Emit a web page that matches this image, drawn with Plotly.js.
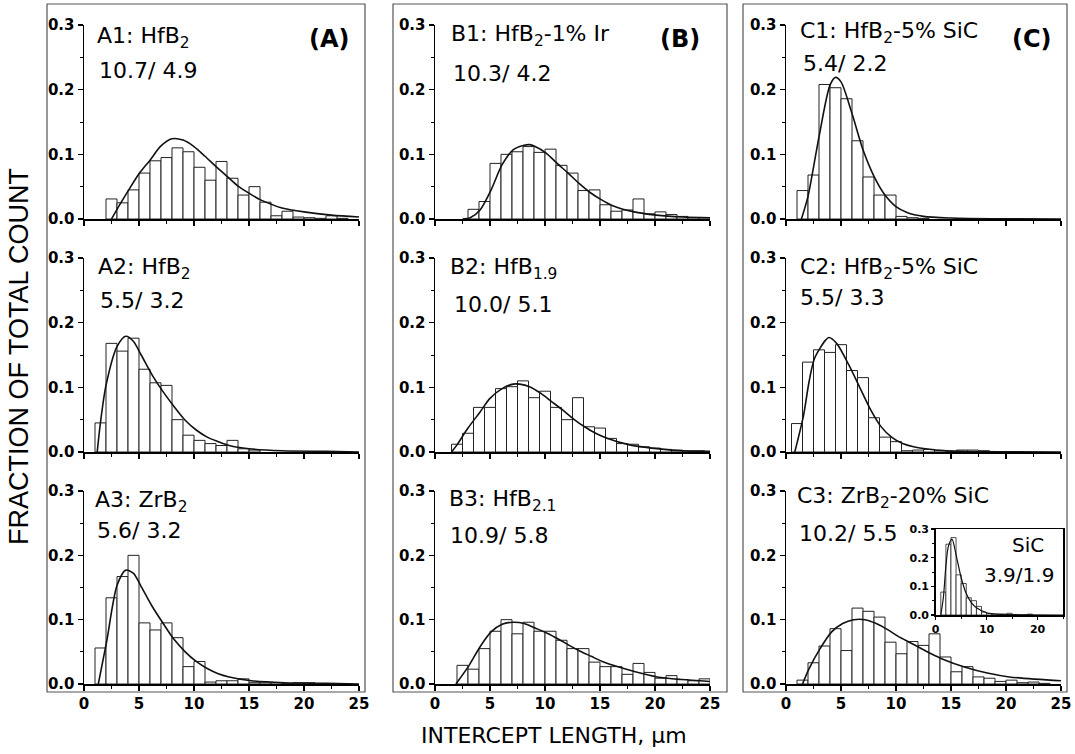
<!DOCTYPE html>
<html>
<head>
<meta charset="utf-8">
<script src="https://cdn.plot.ly/plotly-3.0.1.min.js"></script>
<style>html,body{margin:0;padding:0;background:#fff;}#chart{width:1075px;height:754px;}</style>
</head>
<body>
<div id="chart"></div>
<script>
// ---------------- DATA ----------------
// Histogram bins are 1 µm wide; *_edge is the left edge of the first bin.
const A1_edge = 2;
const A1_frac = [0.031,0.025,0.045,0.071,0.090,0.095,0.110,0.104,0.080,0.060,0.089,0.063,0.037,0.050,0.026,0.005,0.012,0.003,0.002,0.001,0.005,0.001];
const A1_fitX = [2.5,3,4,5,6,7,8,9,10,11,12,13,14,15,16,17,18,20,22.5,25];
const A1_fitY = [0,0.015,0.043,0.070,0.091,0.113,0.124,0.122,0.112,0.097,0.081,0.066,0.051,0.040,0.030,0.023,0.017,0.011,0.006,0.003];

const B1_edge = 3;
const B1_frac = [0.015,0.027,0.086,0.100,0.104,0.112,0.103,0.108,0.083,0.071,0.044,0.045,0.022,0.012,0.014,0.031,0.008,0.011,0.007,0.004,0.002,0.002];
const B1_fitX = [2.5,3.2,4.1,5.1,6.1,7.1,8.1,8.6,9.1,10.1,11.1,12.1,13.1,14.1,15.1,16.1,18.1,20.1,22.5,25];
const B1_fitY = [0,0.002,0.014,0.045,0.084,0.107,0.114,0.115,0.112,0.102,0.086,0.071,0.055,0.041,0.030,0.021,0.011,0.006,0.003,0.002];

const C1_edge = 1;
const C1_frac = [0.044,0.068,0.208,0.203,0.186,0.121,0.065,0.037,0.037,0.004,0.002,0.001];
const C1_fitX = [1.4,2.0,3.0,4.0,4.5,5.0,6.0,7.0,8.0,9.0,10.0,11.0,12.5,15,20,25];
const C1_fitY = [0,0.035,0.127,0.207,0.219,0.212,0.163,0.107,0.066,0.037,0.019,0.010,0.004,0.0015,0.0003,0];

const A2_edge = 1;
const A2_frac = [0.045,0.168,0.156,0.176,0.128,0.107,0.103,0.050,0.026,0.018,0.013,0.010,0.018,0.005,0.003];
const A2_fitX = [1.2,1.5,2.0,3.0,3.8,4.5,5.2,6.2,7.2,8.2,9.2,10.2,11.2,12.2,13.2,15,18,22,25];
const A2_fitY = [0,0.046,0.103,0.163,0.179,0.171,0.150,0.119,0.093,0.070,0.049,0.034,0.023,0.016,0.010,0.005,0.002,0.001,0];

const B2_edge = 1.5;
const B2_frac = [0.012,0.029,0.069,0.069,0.098,0.101,0.110,0.084,0.094,0.069,0.050,0.084,0.039,0.037,0.021,0.013,0.012,0.008,0.006,0.004,0.003,0.002,0.002];
const B2_fitX = [1.5,2.0,3.0,4.1,5.0,6.1,7.1,7.7,8.6,9.6,10.6,11.6,12.6,13.6,14.6,15.7,17.7,19.7,22.3,25];
const B2_fitY = [0,0.011,0.037,0.062,0.083,0.098,0.105,0.105,0.101,0.091,0.078,0.065,0.051,0.039,0.029,0.021,0.011,0.006,0.002,0.001];

const C2_edge = 0.5;
const C2_frac = [0.044,0.139,0.158,0.154,0.166,0.126,0.115,0.053,0.023,0.016,0.002,0.003,0.004,0.002,0.001,0.003,0.003,0.002];
const C2_fitX = [0.8,1.6,2.1,2.6,3.6,3.9,4.6,5.7,6.7,7.7,8.6,9.6,10.6,11.6,13.6,16,25];
const C2_fitY = [0,0.057,0.109,0.145,0.173,0.177,0.168,0.135,0.100,0.065,0.040,0.023,0.013,0.008,0.003,0.001,0];

const A3_edge = 1;
const A3_frac = [0.056,0.134,0.167,0.200,0.095,0.084,0.095,0.072,0.027,0.035,0.003,0.005,0.005,0.008,0.002,0.002,0.002,0.001,0.002,0.002];
const A3_fitX = [1.3,2.05,3.0,3.8,4.5,5.15,6.15,7.2,8.2,9.2,10.2,11.2,12.2,13.2,15.2,18.2,22,25];
const A3_fitY = [0,0.065,0.153,0.177,0.172,0.153,0.122,0.094,0.069,0.050,0.035,0.024,0.016,0.011,0.005,0.002,0.001,0];

const B3_edge = 2;
const B3_frac = [0.029,0.023,0.055,0.082,0.100,0.078,0.096,0.082,0.082,0.068,0.055,0.055,0.034,0.027,0.027,0.015,0.032,0.018,0.009,0.013,0.007,0.005,0.008];
const B3_fitX = [1.9,3.1,4.1,5.1,6.1,7.1,8.1,9.1,10.2,11.2,12.2,13.2,14.2,15.2,16.2,18.2,20.2,22.4,25];
const B3_fitY = [0,0.029,0.058,0.081,0.093,0.096,0.094,0.087,0.079,0.070,0.060,0.051,0.043,0.035,0.029,0.019,0.011,0.007,0.004];

const C3_edge = 1;
const C3_frac = [0.006,0.033,0.059,0.086,0.052,0.118,0.113,0.104,0.065,0.047,0.066,0.060,0.078,0.042,0.019,0.027,0.011,0.009,0.004,0.006,0.002,0.003,0.001];
const C3_fitX = [1.5,2.1,3.1,4.15,5.15,6.15,7.2,8.2,9.2,10.2,11.2,12.2,13.2,14.2,16.3,18.3,20.3,25];
const C3_fitY = [0,0.024,0.055,0.081,0.094,0.100,0.100,0.094,0.085,0.074,0.065,0.056,0.047,0.039,0.026,0.017,0.011,0.005];

const SiC_edge = 1;
const SiC_frac = [0.080,0.247,0.270,0.140,0.110,0.060,0.050,0.030,0.010,0.005,0.003,0.003,0.003,0.006,0.002,0,0,0.003];
const SiC_fitX = [1.0,1.5,2.0,2.5,3.2,4.0,5.0,6.0,7.0,8.0,10,13,18,25];
const SiC_fitY = [0,0.06,0.17,0.24,0.265,0.21,0.13,0.075,0.043,0.025,0.008,0.002,0.0005,0];

// Labels
const panelNames = ['A1: HfB<sub>2</sub>','B1: HfB<sub>2</sub>-1% Ir','C1: HfB<sub>2</sub>-5% SiC',
                    'A2: HfB<sub>2</sub>','B2: HfB<sub>1.9</sub>','C2: HfB<sub>2</sub>-5% SiC',
                    'A3: ZrB<sub>2</sub>','B3: HfB<sub>2.1</sub>','C3: ZrB<sub>2</sub>-20% SiC'];
const panelStats = ['10.7/ 4.9','10.3/ 4.2','5.4/ 2.2','5.5/ 3.2','10.0/ 5.1','5.5/ 3.3','5.6/ 3.2','10.9/ 5.8','10.2/ 5.5'];
const columnLabels = ['(A)','(B)','(C)'];
const insetName = 'SiC';
const insetStats = '3.9/1.9';
const xTitle = 'INTERCEPT LENGTH, µm';
const yTitle = 'FRACTION OF TOTAL COUNT';
const yTickVals = [0,0.1,0.2,0.3];
const yTickText = ['0.0','0.1','0.2','0.3'];
const xTickVals = [0,5,10,15,20,25];
const insetXTicks = [0,10,20];

// ---------------- LAYOUT ----------------
const W = 1075, H = 754;
const px = x => x / W;
const py = y => 1 - y / H;
const cols = [[84,359],[435,710],[786,1061]];
const rows = [[25,219],[258,452],[491,684]];

const panels = [
  [A1_edge,A1_frac,A1_fitX,A1_fitY],[B1_edge,B1_frac,B1_fitX,B1_fitY],[C1_edge,C1_frac,C1_fitX,C1_fitY],
  [A2_edge,A2_frac,A2_fitX,A2_fitY],[B2_edge,B2_frac,B2_fitX,B2_fitY],[C2_edge,C2_frac,C2_fitX,C2_fitY],
  [A3_edge,A3_frac,A3_fitX,A3_fitY],[B3_edge,B3_frac,B3_fitX,B3_fitY],[C3_edge,C3_frac,C3_fitX,C3_fitY],
  [SiC_edge,SiC_frac,SiC_fitX,SiC_fitY]
];

const tickFont = {family:'DejaVu Sans', size:15, color:'#000', weight:'bold'};
const traces = [];
const layout = {
  width: W, height: H, autosize: false,
  margin: {l:0, r:0, t:0, b:0},
  paper_bgcolor: '#fff', plot_bgcolor: 'rgba(0,0,0,0)',
  showlegend: false, barmode: 'overlay',
  annotations: [], shapes: []
};

panels.forEach((p, i) => {
  const k = i + 1;
  const xa = k === 1 ? 'x' : 'x' + k;
  const ya = k === 1 ? 'y' : 'y' + k;
  const [edge, frac, fx, fy] = p;
  traces.push({
    type: 'bar', xaxis: xa, yaxis: ya,
    x: frac.map((_, j) => edge + j + 0.5), y: frac, width: 1,
    marker: {color: '#fff', line: {color: '#222', width: i === 9 ? 0.8 : 1}},
    hoverinfo: 'skip'
  });
  traces.push({
    type: 'scatter', mode: 'lines', xaxis: xa, yaxis: ya,
    x: fx, y: fy,
    line: {color: '#111', width: i === 9 ? 1.2 : 1.6, shape: 'spline', smoothing: 0.8},
    hoverinfo: 'skip'
  });
  let xd, yd, isInset = (i === 9);
  if (isInset) {
    xd = [px(935.7), px(1063)];
    yd = [py(615), py(529)];
  } else {
    const r = Math.floor(i / 3), c = i % 3;
    xd = [px(cols[c][0]), px(cols[c][1])];
    yd = [py(rows[r][1]), py(rows[r][0])];
  }
  const xKey = k === 1 ? 'xaxis' : 'xaxis' + k;
  const yKey = k === 1 ? 'yaxis' : 'yaxis' + k;
  layout[xKey] = {
    domain: xd, anchor: ya, range: [0, 25], fixedrange: true,
    tickvals: isInset ? insetXTicks : xTickVals,
    ticks: 'outside', ticklen: isInset ? 3 : 5, tickwidth: 1.3, tickcolor: '#000',
    minor: {dtick: isInset ? 5 : 2.5, tick0: 0, ticks: 'outside', ticklen: isInset ? 2 : 3, tickwidth: 1, tickcolor: '#000'},
    showticklabels: isInset || i >= 6,
    tickfont: isInset ? {family:'DejaVu Sans', size:11, color:'#000', weight:'bold'} : tickFont,
    showline: true, linecolor: '#000', linewidth: 1.5, mirror: isInset,
    showgrid: false, zeroline: false
  };
  layout[yKey] = {
    domain: yd, anchor: xa, range: [0, 0.3], fixedrange: true,
    tickvals: yTickVals, ticktext: yTickText,
    ticks: 'outside', ticklen: isInset ? 3 : 5, tickwidth: 1.3, tickcolor: '#000',
    minor: {dtick: 0.05, tick0: 0, ticks: 'outside', ticklen: isInset ? 2 : 3, tickwidth: 1, tickcolor: '#000'},
    tickfont: isInset ? {family:'DejaVu Sans', size:11, color:'#000', weight:'bold'} : tickFont,
    showline: true, linecolor: '#000', linewidth: 1.5, mirror: isInset,
    showgrid: false, zeroline: false
  };
});

// panel labels (positions in pixels)
const namePos = [[95,37],[449,35],[798,33],[96,268],[448,268],[798,268],[93,502],[447,500],[795,498]];
const statPos = [[97,70],[451,73],[801,63],[98,300],[452,304],[798,298],[95,530],[448,535],[797,533]];
const annFont = {family:'DejaVu Sans', size:22, color:'#000'};
panelNames.forEach((t, i) => {
  layout.annotations.push({xref:'paper', yref:'paper', x:px(namePos[i][0]), y:py(namePos[i][1]),
    xanchor:'left', yanchor:'middle', text:t, showarrow:false, font:annFont});
  layout.annotations.push({xref:'paper', yref:'paper', x:px(statPos[i][0]), y:py(statPos[i][1]),
    xanchor:'left', yanchor:'middle', text:panelStats[i], showarrow:false, font:annFont});
});
const colLabPos = [[329,39],[680,39],[1032,39]];
columnLabels.forEach((t, i) => {
  layout.annotations.push({xref:'paper', yref:'paper', x:px(colLabPos[i][0]), y:py(colLabPos[i][1]),
    xanchor:'center', yanchor:'middle', text:t, showarrow:false,
    font:{family:'DejaVu Sans', size:24, color:'#000', weight:'bold'}});
});
layout.annotations.push({xref:'paper', yref:'paper', x:px(1028), y:py(545), xanchor:'center', yanchor:'middle',
  text:insetName, showarrow:false, font:{family:'DejaVu Sans', size:20, color:'#000'}});
layout.annotations.push({xref:'paper', yref:'paper', x:px(1019), y:py(575), xanchor:'center', yanchor:'middle',
  text:insetStats, showarrow:false, font:{family:'DejaVu Sans', size:20, color:'#000'}});
layout.annotations.push({xref:'paper', yref:'paper', x:px(554), y:py(735), xanchor:'center', yanchor:'middle',
  text:xTitle, showarrow:false, font:{family:'DejaVu Sans', size:22, color:'#000'}});
layout.annotations.push({xref:'paper', yref:'paper', x:px(19), y:py(357), xanchor:'center', yanchor:'middle',
  text:yTitle, textangle:-90, showarrow:false, font:{family:'Liberation Sans', size:27, color:'#000'}});

// column frames
const frames = [[47,4,365,692],[393,4,727,692],[743,4,1067,692]];
frames.forEach(f => {
  layout.shapes.push({type:'rect', xref:'paper', yref:'paper', x0:px(f[0]), y0:py(f[3]), x1:px(f[2]), y1:py(f[1]),
    line:{color:'#555', width:1.2}, layer:'below'});
});

Plotly.newPlot('chart', traces, layout, {staticPlot: true, displayModeBar: false});
</script>
</body>
</html>
